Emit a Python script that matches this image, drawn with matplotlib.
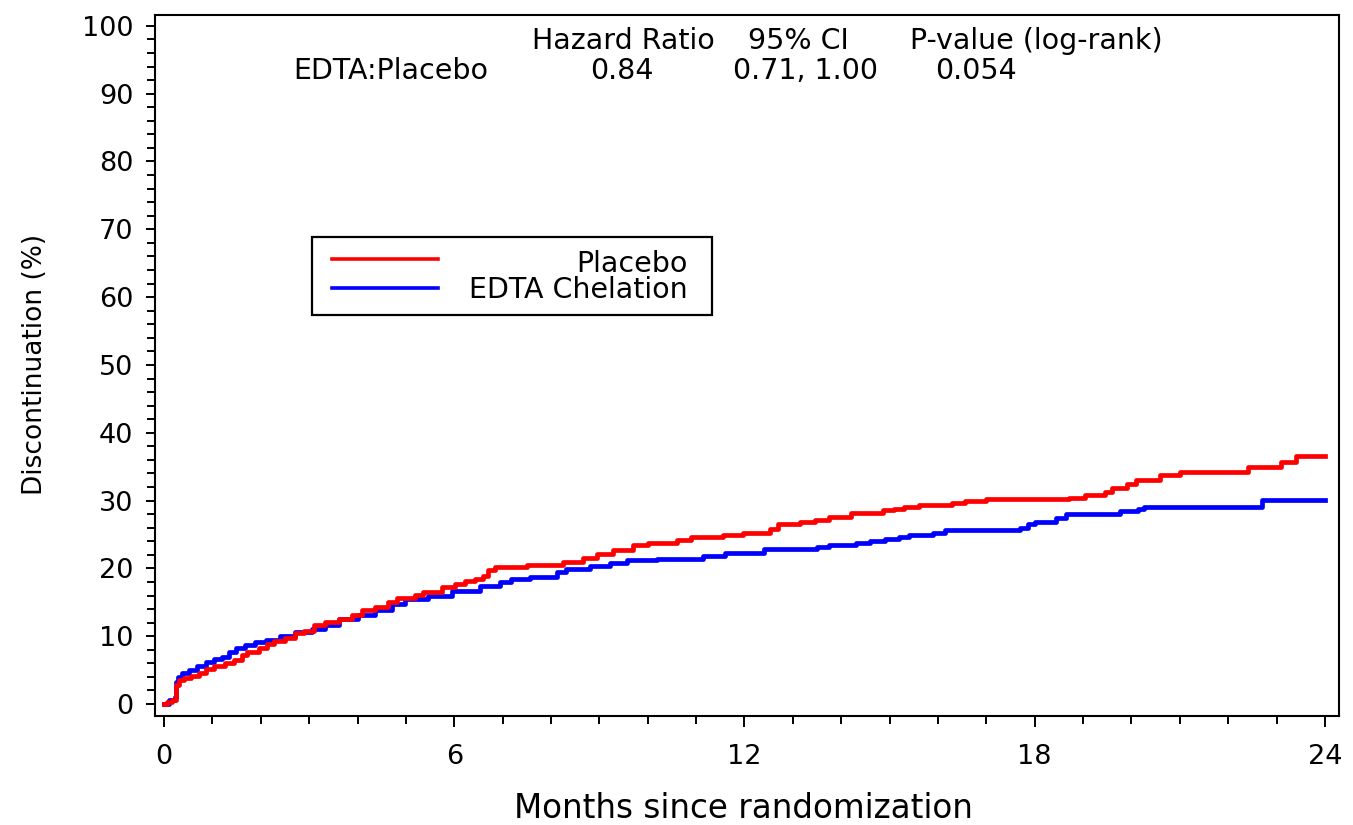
#!/usr/bin/env python3
"""Cumulative discontinuation, EDTA chelation vs placebo (step curves)."""

import matplotlib
matplotlib.use("Agg")
import matplotlib.pyplot as plt
from matplotlib.patches import Rectangle
from matplotlib.ticker import MultipleLocator, FixedLocator

# Placebo curve, months / % discontinued
PLACEBO_T = [0.00, 0.07, 0.17, 0.25, 0.30, 0.41, 0.55, 0.72, 0.86, 1.03,
             1.27, 1.44, 1.62, 1.72, 1.96, 2.13, 2.27, 2.51, 2.71, 2.89,
             3.09, 3.33, 3.61, 3.88, 4.09, 4.36, 4.64, 4.81, 5.19, 5.36,
             5.74, 6.01, 6.22, 6.43, 6.60, 6.70, 6.85, 7.50, 8.25, 8.66,
             8.95, 9.28, 9.70, 10.00, 10.60, 10.90, 11.55, 11.97, 12.53, 12.70,
             13.15, 13.45, 13.75, 14.20, 14.86, 15.10, 15.30, 15.60, 16.30, 16.55,
             17.00, 18.70, 19.05, 19.45, 19.60, 19.90, 20.10, 20.60, 21.00, 22.40,
             23.10, 23.40, 24.00]
PLACEBO_Y = [0.0, 0.3, 0.6, 2.8, 3.5, 3.8, 4.1, 4.6, 5.2, 5.6,
             6.0, 6.5, 7.2, 7.7, 8.2, 8.9, 9.3, 9.8, 10.4, 10.8,
             11.6, 12.1, 12.6, 13.1, 13.8, 14.3, 15.0, 15.7, 16.1, 16.5,
             17.2, 17.7, 18.1, 18.4, 18.9, 19.8, 20.2, 20.5, 21.0, 21.5,
             22.1, 22.7, 23.4, 23.7, 24.2, 24.6, 24.9, 25.2, 25.8, 26.5,
             26.9, 27.2, 27.6, 28.2, 28.6, 28.8, 29.1, 29.4, 29.7, 30.0,
             30.2, 30.4, 30.8, 31.3, 31.9, 32.4, 33.1, 33.8, 34.2, 35.0,
             35.7, 36.6, 36.6]

# EDTA chelation curve
EDTA_T = [0.00, 0.10, 0.23, 0.25, 0.28, 0.38, 0.52, 0.69, 0.86, 1.03,
          1.20, 1.34, 1.48, 1.68, 1.89, 2.10, 2.40, 2.71, 3.06, 3.33,
          3.61, 4.02, 4.36, 4.71, 4.98, 5.46, 5.95, 6.53, 6.95, 7.17,
          7.57, 8.12, 8.30, 8.80, 9.22, 9.57, 10.19, 11.15, 11.60, 12.40,
          13.50, 13.75, 14.30, 14.60, 14.90, 15.20, 15.40, 15.90, 16.15, 17.70,
          17.86, 18.00, 18.45, 18.65, 19.76, 20.14, 20.25, 22.70, 24.00]
EDTA_Y = [0.0, 0.6, 1.1, 3.3, 4.0, 4.5, 5.0, 5.6, 6.2, 6.7,
          7.0, 7.7, 8.2, 8.7, 9.1, 9.5, 10.1, 10.6, 11.1, 11.7,
          12.6, 13.1, 13.8, 14.8, 15.5, 16.0, 16.6, 17.4, 18.0, 18.4,
          18.8, 19.5, 19.9, 20.3, 20.8, 21.2, 21.4, 21.8, 22.3, 22.8,
          23.2, 23.5, 23.8, 24.1, 24.3, 24.6, 24.9, 25.2, 25.6, 26.0,
          26.5, 26.9, 27.5, 28.0, 28.4, 28.8, 29.1, 30.1, 30.1]

SERIES_LABELS = ["Placebo", "EDTA Chelation"]
SERIES_COLORS = ["#FF0000", "#0000FF"]

X_MAJOR = [0, 6, 12, 18, 24]
HEADER = ["Hazard Ratio", "95% CI", "P-value (log-rank)"]
HEADER_ROW = ["EDTA:Placebo", "0.84", "0.71, 1.00", "0.054"]


def main() -> None:
    fig = plt.figure(figsize=(13.53, 8.25), dpi=100)
    ax = fig.add_axes([0.1146, 0.1321, 0.875, 0.8497])

    ax.step(EDTA_T, EDTA_Y, where="post", color=SERIES_COLORS[1], lw=3.4)
    ax.step(PLACEBO_T, PLACEBO_Y, where="post", color=SERIES_COLORS[0], lw=3.4)

    ax.set_xlim(-0.186, 24.29)
    ax.set_ylim(-1.77, 101.6)

    ax.xaxis.set_major_locator(FixedLocator(X_MAJOR))
    ax.xaxis.set_minor_locator(MultipleLocator(1))
    ax.yaxis.set_major_locator(MultipleLocator(10))
    ax.yaxis.set_minor_locator(MultipleLocator(2))

    for s in ax.spines.values():
        s.set_linewidth(1.5)
    ax.tick_params(axis="x", which="major", length=8, width=1.4, pad=12, labelsize=19.5)
    ax.tick_params(axis="x", which="minor", length=5.5, width=1.4)
    ax.tick_params(axis="y", which="major", length=6.5, width=1.4, pad=9, labelsize=19.5)
    ax.tick_params(axis="y", which="minor", length=5.5, width=1.4)

    ax.set_xlabel("Months since randomization", fontsize=23.5, va="top")
    ax.xaxis.set_label_coords(0.497, -0.108)
    ax.set_ylabel("Discontinuation (%)", fontsize=19, va="center")
    ax.yaxis.set_label_coords(-0.101, 0.501)

    # header table
    for txt, xc in zip(HEADER, [9.49, 13.11, 18.03]):
        ax.text(xc, 96.6, txt, ha="center", va="baseline", fontsize=20.5)
    for txt, xc in zip(HEADER_ROW, [4.69, 9.47, 13.27, 16.79]):
        ax.text(xc, 92.2, txt, ha="center", va="baseline", fontsize=20.5)

    # hand-drawn legend with right-aligned labels
    ax.add_patch(Rectangle((0.1326, 0.572), 0.3378, 0.1113, transform=ax.transAxes,
                           facecolor="white", edgecolor="black", lw=1.6, zorder=5))
    for lbl, col, ly, ty in zip(SERIES_LABELS, SERIES_COLORS,
                                [0.6519, 0.6106], [0.6334, 0.5963]):
        ax.plot([0.1495, 0.2390], [ly, ly], color=col, lw=2.6,
                transform=ax.transAxes, zorder=6)
        ax.text(0.4502, ty, lbl, transform=ax.transAxes, ha="right",
                va="baseline", fontsize=20.5, zorder=6)

    fig.savefig("out.png", dpi=100)


if __name__ == "__main__":
    main()
